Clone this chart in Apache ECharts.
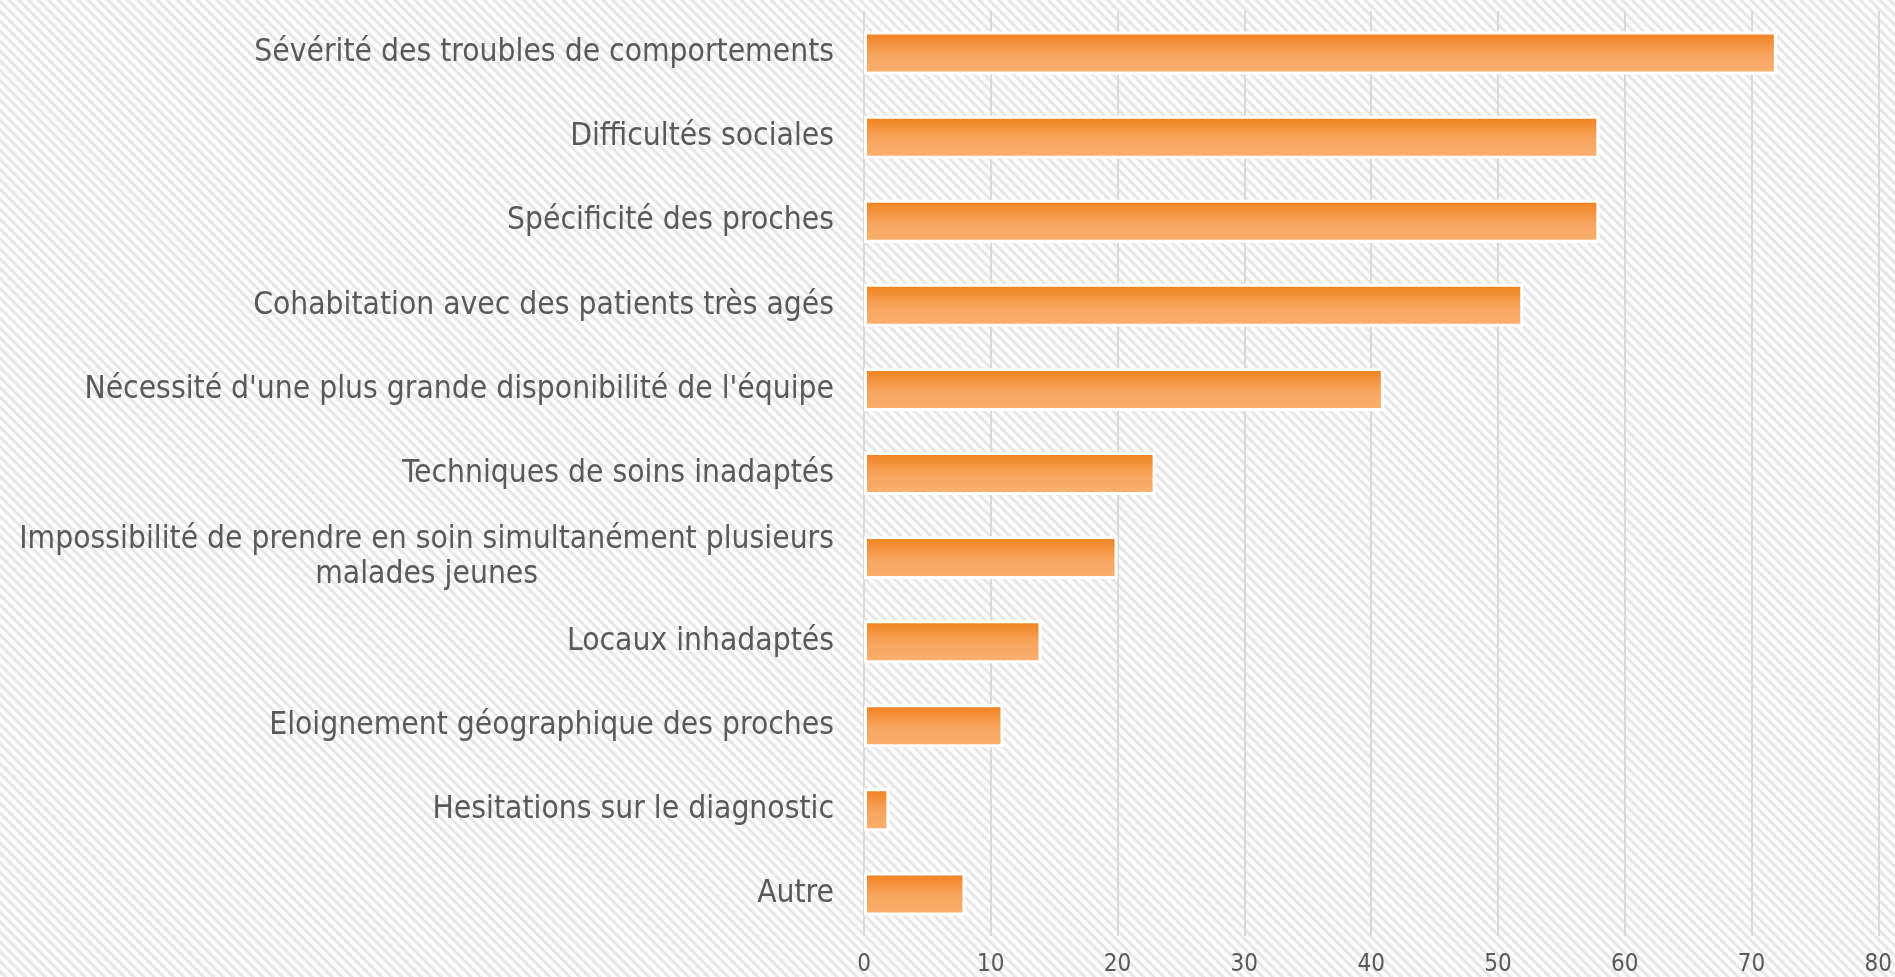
<!DOCTYPE html>
<html lang="fr">
<head>
    <meta charset="UTF-8">
    <script src="https://cdn.jsdelivr.net/npm/echarts@6/dist/echarts.min.js"></script>
    <style type="text/css">
        html, body { margin: 0; padding: 0; }
        #chart {
            width: 1895px;
            height: 977px;
            background-color: #fff;
            background-image: repeating-linear-gradient(45deg, #fdfdfd 0px, #fdfdfd 2px, #e7e7e7 3px, #e7e7e7 5px, #fdfdfd 6px, #fdfdfd 7px);
        }
    </style>
</head>
<body>
<div id="chart"></div>
<script type="text/javascript">
    // catégories (de haut en bas)
    var categories = [
        "Sévérité des troubles de comportements",
        "Difficultés sociales",
        "Spécificité des proches",
        "Cohabitation avec des patients très agés",
        "Nécessité d'une plus grande disponibilité de l'équipe",
        "Techniques de soins inadaptés",
        "Impossibilité de prendre en soin simultanément plusieurs\nmalades jeunes",
        "Locaux inhadaptés",
        "Eloignement géographique des proches",
        "Hesitations sur le diagnostic",
        "Autre"
    ];
    var values = [72, 58, 58, 52, 41, 23, 20, 14, 11, 2, 8];
    var xTicks = [0, 10, 20, 30, 40, 50, 60, 70, 80];

    var font = '"DejaVu Sans Condensed", "DejaVu Sans", sans-serif';
    var myChart = echarts.init(document.getElementById('chart'));
    var option = {
        backgroundColor: 'transparent',
        animation: false,
        grid: { left: 864, right: 15, top: 11, bottom: 40, containLabel: false },
        xAxis: {
            type: 'value',
            min: xTicks[0],
            max: xTicks[xTicks.length - 1],
            interval: 10,
            axisLine: { show: false },
            axisTick: { show: false },
            splitLine: { show: true, lineStyle: { color: '#d9d9d9', width: 2 } },
            axisLabel: { color: '#595959', fontSize: 24, fontFamily: font, margin: 17 }
        },
        yAxis: {
            type: 'category',
            inverse: true,
            data: categories,
            axisLine: { show: false },
            axisTick: { show: false },
            axisLabel: {
                color: '#595959', fontSize: 31.5, fontFamily: font,
                margin: 30, align: 'right', lineHeight: 35,
                // lignes centrées entre elles quand le libellé est sur 2 lignes
                formatter: function (v) {
                    if (v.indexOf('\n') < 0) return v;
                    return v.split('\n').map(function (s) { return '{c|' + s + '}'; }).join('\n');
                },
                rich: {
                    c: { align: 'center', color: '#595959', fontSize: 31.5, fontFamily: font, lineHeight: 35 }
                }
            }
        },
        series: [{
            type: 'bar',
            data: values,
            barWidth: 43,
            itemStyle: {
                borderColor: '#fff',
                borderWidth: 3,
                color: new echarts.graphic.LinearGradient(0, 0, 0, 1, [
                    { offset: 0, color: '#ef7f1a' },
                    { offset: 0.55, color: '#f7a660' },
                    { offset: 1, color: '#f9b06e' }
                ])
            }
        }]
    };
    myChart.setOption(option);
</script>
</body>
</html>
